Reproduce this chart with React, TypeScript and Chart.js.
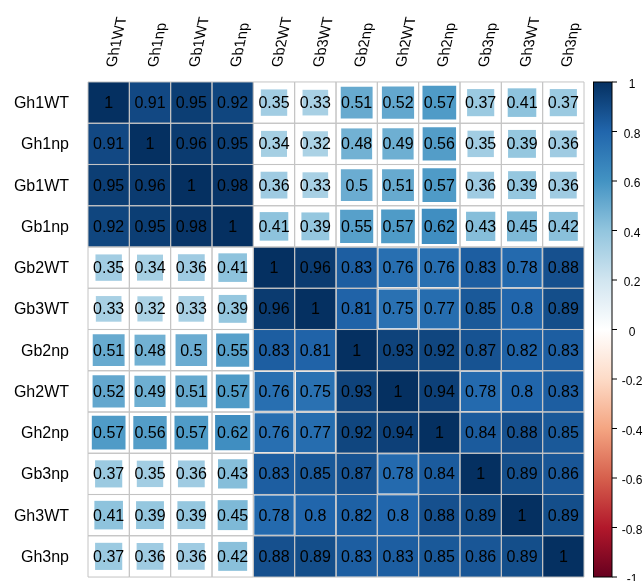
import React, { useEffect, useRef } from 'react';
import { Chart, registerables } from 'chart.js';

Chart.register(...registerables);

const varLabels = ['Gh1WT', 'Gh1np', 'Gb1WT', 'Gb1np', 'Gb2WT', 'Gb3WT', 'Gb2np', 'Gh2WT', 'Gh2np', 'Gb3np', 'Gh3WT', 'Gh3np'];

const rowGh1WT = [1, 0.91, 0.95, 0.92, 0.35, 0.33, 0.51, 0.52, 0.57, 0.37, 0.41, 0.37];
const rowGh1np = [0.91, 1, 0.96, 0.95, 0.34, 0.32, 0.48, 0.49, 0.56, 0.35, 0.39, 0.36];
const rowGb1WT = [0.95, 0.96, 1, 0.98, 0.36, 0.33, 0.5, 0.51, 0.57, 0.36, 0.39, 0.36];
const rowGb1np = [0.92, 0.95, 0.98, 1, 0.41, 0.39, 0.55, 0.57, 0.62, 0.43, 0.45, 0.42];
const rowGb2WT = [0.35, 0.34, 0.36, 0.41, 1, 0.96, 0.83, 0.76, 0.76, 0.83, 0.78, 0.88];
const rowGb3WT = [0.33, 0.32, 0.33, 0.39, 0.96, 1, 0.81, 0.75, 0.77, 0.85, 0.8, 0.89];
const rowGb2np = [0.51, 0.48, 0.5, 0.55, 0.83, 0.81, 1, 0.93, 0.92, 0.87, 0.82, 0.83];
const rowGh2WT = [0.52, 0.49, 0.51, 0.57, 0.76, 0.75, 0.93, 1, 0.94, 0.78, 0.8, 0.83];
const rowGh2np = [0.57, 0.56, 0.57, 0.62, 0.76, 0.77, 0.92, 0.94, 1, 0.84, 0.88, 0.85];
const rowGb3np = [0.37, 0.35, 0.36, 0.43, 0.83, 0.85, 0.87, 0.78, 0.84, 1, 0.89, 0.86];
const rowGh3WT = [0.41, 0.39, 0.39, 0.45, 0.78, 0.8, 0.82, 0.8, 0.88, 0.89, 1, 0.89];
const rowGh3np = [0.37, 0.36, 0.36, 0.42, 0.88, 0.89, 0.83, 0.83, 0.85, 0.86, 0.89, 1];

const corrRows = [rowGh1WT, rowGh1np, rowGb1WT, rowGb1np, rowGb2WT, rowGb3WT, rowGb2np, rowGh2WT, rowGh2np, rowGb3np, rowGh3WT, rowGh3np];

const legendTicks = [1, 0.8, 0.6, 0.4, 0.2, 0, -0.2, -0.4, -0.6, -0.8, -1];
const legendTickLabels = ['1', '0.8', '0.6', '0.4', '0.2', '0', '-0.2', '-0.4', '-0.6', '-0.8', '-1'];

const paletteStops = ['#67001F', '#B2182B', '#D6604D', '#F4A582', '#FDDBC7', '#FFFFFF', '#D1E5F0', '#92C5DE', '#4393C3', '#2166AC', '#053061'];

const FONT = '"Liberation Sans", Arial, sans-serif';

function hexToRgb(h: string) {
  const n = parseInt(h.slice(1), 16);
  return [(n >> 16) & 255, (n >> 8) & 255, n & 255];
}

function colorFor(v: number) {
  const t = ((v + 1) / 2) * (paletteStops.length - 1);
  const i = Math.max(0, Math.min(paletteStops.length - 2, Math.floor(t)));
  const f = t - i;
  const a = hexToRgb(paletteStops[i]);
  const b = hexToRgb(paletteStops[i + 1]);
  const c = a.map((x, k) => Math.round(x + (b[k] - x) * f));
  return `rgb(${c[0]},${c[1]},${c[2]})`;
}

type Cell = { x: number; y: number; v: number };

const cells: Cell[] = [];
corrRows.forEach((row, r) => row.forEach((v, c) => cells.push({ x: c + 1, y: r + 1, v })));

function cellSize(chart: any) {
  const ca = chart.chartArea;
  if (!ca) return 0;
  return (ca.right - ca.left) / varLabels.length;
}

const labelPlugin = {
  id: 'corrLabels',
  afterDatasetsDraw(chart: any) {
    const ctx = chart.ctx;
    const xs = chart.scales.x;
    const ys = chart.scales.y;
    const ca = chart.chartArea;
    ctx.save();
    ctx.fillStyle = '#000';
    ctx.textAlign = 'center';
    ctx.textBaseline = 'middle';
    ctx.font = `16px ${FONT}`;
    cells.forEach((d) => {
      ctx.fillText(String(d.v), xs.getPixelForValue(d.x), ys.getPixelForValue(d.y) + 1);
    });
    // row labels
    ctx.textAlign = 'right';
    ctx.font = `16px ${FONT}`;
    varLabels.forEach((l, i) => {
      ctx.fillText(l, ca.left - 19, ys.getPixelForValue(i + 1) + 1);
    });
    // column labels (vertical text with a slanted baseline)
    ctx.font = `15px ${FONT}`;
    ctx.textAlign = 'left';
    const ang = (12 * Math.PI) / 180;
    varLabels.forEach((l, i) => {
      ctx.save();
      ctx.translate(xs.getPixelForValue(i + 1) + 3, ca.top - 15);
      ctx.transform(Math.sin(ang), -Math.cos(ang), 1, 0, 0, 0);
      ctx.fillText(l, 0, 0);
      ctx.restore();
    });
    ctx.restore();
  },
  afterDraw(chart: any) {
    const ctx = chart.ctx;
    const cs = chart.scales.c;
    const ca = chart.chartArea;
    const x0 = ca.right + 9.5;
    const x1 = x0 + 18.5;
    const yTop = cs.getPixelForValue(1);
    const yBot = cs.getPixelForValue(-1);
    ctx.save();
    const g = ctx.createLinearGradient(0, yTop, 0, yBot);
    const n = paletteStops.length - 1;
    for (let i = 0; i <= n; i++) g.addColorStop(i / n, paletteStops[n - i]);
    ctx.fillStyle = g;
    ctx.fillRect(x0, yTop, x1 - x0, yBot - yTop);
    ctx.strokeStyle = '#000';
    ctx.lineWidth = 1;
    ctx.strokeRect(x0, yTop, x1 - x0, yBot - yTop);
    ctx.fillStyle = '#000';
    ctx.font = `12px ${FONT}`;
    ctx.textAlign = 'center';
    ctx.textBaseline = 'middle';
    legendTicks.forEach((v, i) => {
      const y = cs.getPixelForValue(v);
      ctx.beginPath();
      ctx.moveTo(x1, y);
      ctx.lineTo(x1 + 5, y);
      ctx.stroke();
      ctx.fillText(legendTickLabels[i], 632, y + 3);
    });
    ctx.restore();
  },
};

export default function App() {
  const ref = useRef<HTMLCanvasElement>(null);
  useEffect(() => {
    if (!ref.current) return;
    const chart = new Chart(ref.current, {
      type: 'scatter',
      data: {
        datasets: [
          {
            data: cells as any,
            pointStyle: 'rect',
            backgroundColor: 'rgba(0,0,0,0)',
            borderColor: '#c4c4c4',
            borderWidth: 1,
            radius: (ctx: any) => cellSize(ctx.chart) / Math.SQRT2,
            clip: false as any,
          },
          {
            data: cells as any,
            pointStyle: 'rect',
            backgroundColor: (ctx: any) => colorFor(ctx.raw ? ctx.raw.v : 0),
            borderWidth: 0,
            radius: (ctx: any) => {
              const w = cellSize(ctx.chart);
              const v = ctx.raw ? ctx.raw.v : 0;
              const side = Math.min(1, Math.sqrt(Math.abs(v)) * 1.08) * w;
              return side / Math.SQRT2;
            },
            clip: false as any,
          },
        ],
      },
      options: {
        animation: false,
        responsive: true,
        maintainAspectRatio: false,
        events: [],
        layout: { padding: { left: 88, top: 82, right: 60, bottom: 4 } },
        plugins: { legend: { display: false }, tooltip: { enabled: false } },
        scales: {
          x: { type: 'linear', min: 0.5, max: 12.5, display: false },
          y: { type: 'linear', min: 0.5, max: 12.5, reverse: true, display: false },
          c: { type: 'linear', axis: 'y', min: -1, max: 1, display: false },
        } as any,
      },
      plugins: [labelPlugin],
    });
    return () => chart.destroy();
  }, []);
  return (
    <div style={{ position: 'fixed', left: 0, top: 0, width: 644, height: 581, background: '#fff' }}>
      <canvas ref={ref} />
    </div>
  );
}
